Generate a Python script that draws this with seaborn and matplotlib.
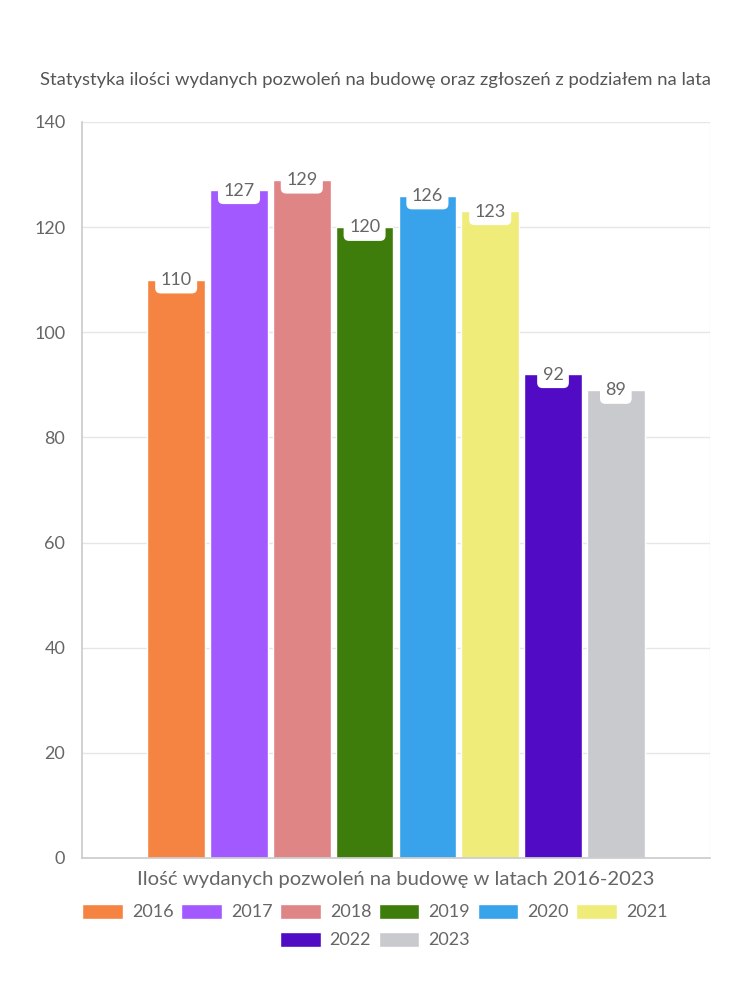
import matplotlib
matplotlib.use("Agg")
import matplotlib.pyplot as plt
import seaborn as sns
import pandas as pd

years = ["2016", "2017", "2018", "2019", "2020", "2021", "2022", "2023"]
values = [110, 127, 129, 120, 126, 123, 92, 89]
colors = ["#F58442", "#A259FF", "#E08585", "#3E7C0B", "#38A3EB", "#F0EC7A", "#520BC4", "#C9CACE"]
yticks = [0, 20, 40, 60, 80, 100, 120, 140]
title = "Statystyka ilości wydanych pozwoleń na budowę oraz zgłoszeń z podziałem na lata"
xlabel = "Ilość wydanych pozwoleń na budowę w latach 2016-2023"

sns.set_theme(style="white")
plt.rcParams["font.family"] = ["Lato", "DejaVu Sans"]

df = pd.DataFrame({"cat": [""] * len(years), "year": years, "value": values})

fig = plt.figure(figsize=(7.5, 10), dpi=100)
ax = fig.add_axes([0.1093, 0.142, 0.8374, 0.736])

sns.barplot(data=df, x="cat", y="value", hue="year", hue_order=years,
            palette=colors, saturation=1, width=0.8, gap=0.08, ax=ax)

ax.set_xlim(-0.5, 0.5)
ax.set_ylim(0, 140)
ax.set_yticks(yticks)
ax.set_yticklabels([str(t) for t in yticks], fontsize=13, color="#666666")
ax.set_xticks([-0.5, 0.5])
ax.set_xticklabels(["", ""])
ax.tick_params(axis="y", length=9, color="#cccccc", width=1, pad=3)
ax.tick_params(axis="x", length=10, color="#dddddd", width=1)
ax.set_xlabel("")
ax.set_ylabel("")
ax.yaxis.grid(True, color="#e6e6e6", linewidth=1)
ax.set_axisbelow(True)
for side in ["left", "bottom"]:
    ax.spines[side].set_color("#cccccc")
for side in ["top", "right"]:
    ax.spines[side].set_visible(False)
ax.axvline(0.5, color="#eeeeee", linewidth=1, zorder=0)

for cont in ax.containers:
    ax.bar_label(cont, labels=[str(int(b.get_height())) for b in cont],
                 padding=-6, fontsize=13, color="#666666",
                 bbox=dict(boxstyle="round,pad=0.3", fc="white", ec="none"))

handles, labels = ax.get_legend_handles_labels()
if ax.get_legend() is not None:
    ax.get_legend().remove()

fig.text(0.5, 0.92, title, ha="center", va="center", fontsize=13.3, color="#555555")
ax.text(0.5, 0.12, xlabel, ha="center", va="center", fontsize=14.6, color="#666666",
        transform=matplotlib.transforms.blended_transform_factory(ax.transAxes, fig.transFigure))

leg_kw = dict(frameon=False, fontsize=13, labelcolor="#666666",
              handlelength=2.25, handleheight=0.95, columnspacing=0.42, handletextpad=0.5,
              borderpad=0.0)
fig.legend(handles[:6], labels[:6], loc="center", bbox_to_anchor=(0.5, 0.088),
           ncol=6, **leg_kw)
fig.legend(handles[6:], labels[6:], loc="center", bbox_to_anchor=(0.5, 0.06),
           ncol=2, **leg_kw)

fig.savefig("out.png", dpi=100, facecolor="white")
